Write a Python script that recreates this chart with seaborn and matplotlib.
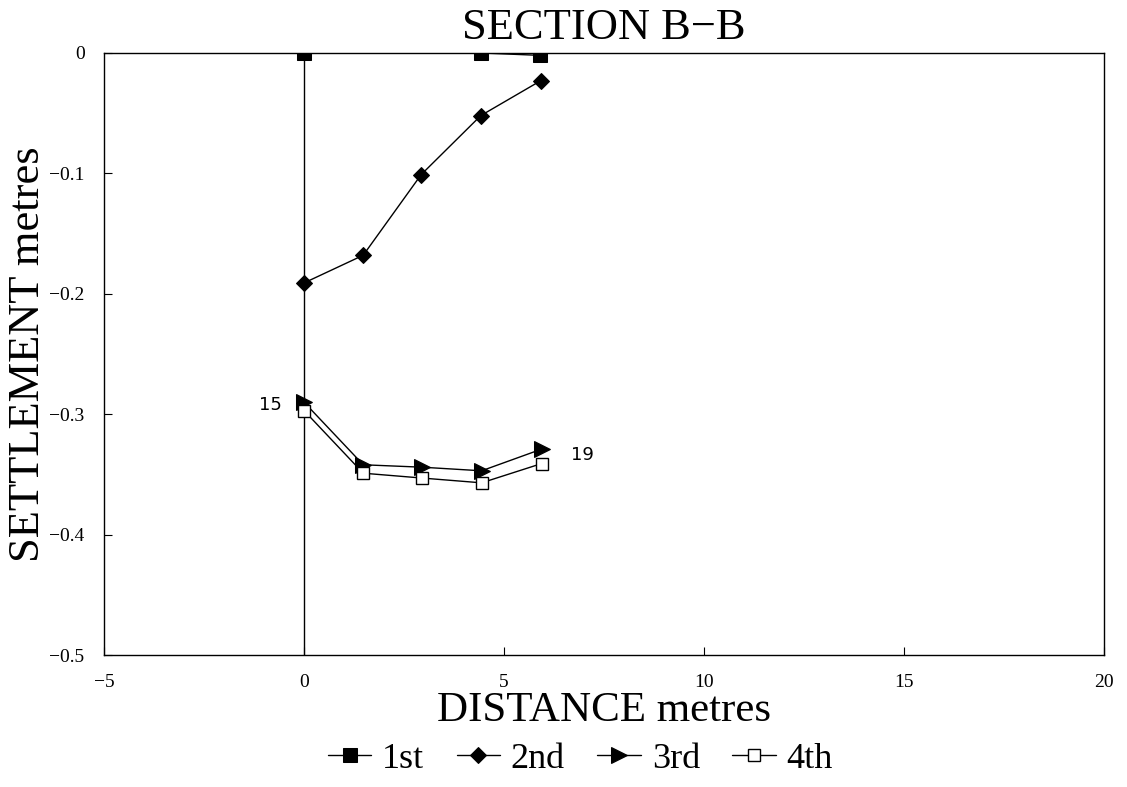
import matplotlib
matplotlib.use("Agg")
import matplotlib.pyplot as plt
import seaborn as sns
import pandas as pd

# Settlement survey readings along section B-B
series_names = ["1st", "2nd", "3rd", "4th"]

dist_1st = [0.0, 4.43, 5.9]
settle_1st = [0.0, 0.0, -0.002]

dist_2nd = [0.0, 1.48, 2.93, 4.42, 5.92]
settle_2nd = [-0.191, -0.168, -0.101, -0.052, -0.023]

dist_3rd = [0.0, 1.48, 2.94, 4.44, 5.94]
settle_3rd = [-0.290, -0.342, -0.344, -0.347, -0.329]

dist_4th = [0.0, 1.48, 2.94, 4.44, 5.94]
settle_4th = [-0.297, -0.349, -0.353, -0.357, -0.341]

x_ticks = [-5, 0, 5, 10, 15, 20]
y_ticks = [0, -0.1, -0.2, -0.3, -0.4, -0.5]
point_labels = [("15", -0.85, -0.292), ("19", 6.95, -0.334)]

frames = []
for name, xs, ys in [("1st", dist_1st, settle_1st), ("2nd", dist_2nd, settle_2nd),
                     ("3rd", dist_3rd, settle_3rd), ("4th", dist_4th, settle_4th)]:
    frames.append(pd.DataFrame({"distance": xs, "settlement": ys, "survey": name}))
df = pd.concat(frames, ignore_index=True)

sns.set_style("white")
plt.rcParams["font.family"] = ["Liberation Serif", "DejaVu Serif"]
plt.rcParams["text.color"] = "black"
plt.rcParams["axes.labelcolor"] = "black"

fig = plt.figure(figsize=(11.27, 7.87), dpi=100)
ax = fig.add_axes([0.0923, 0.1677, 0.8873, 0.765])

styles = {
    "1st": dict(marker="s", markersize=10, markerfacecolor="black", markeredgecolor="black"),
    "2nd": dict(marker="D", markersize=8, markerfacecolor="black", markeredgecolor="black"),
    "3rd": dict(marker=">", markersize=12, markerfacecolor="black", markeredgecolor="black"),
    "4th": dict(marker="s", markersize=9, markerfacecolor="white", markeredgecolor="black",
                markeredgewidth=1.0),
}

# vertical reference line at zero distance
ax.axvline(0, color="black", lw=1.0, zorder=1)

for name in series_names:
    sub = df[df["survey"] == name]
    sns.lineplot(data=sub, x="distance", y="settlement", ax=ax, color="black",
                 lw=1.0, label=name, sort=False, estimator=None, zorder=3,
                 **styles[name])

for txt, x, y in point_labels:
    ax.text(x, y, txt, fontsize=13, family="DejaVu Sans", ha="center", va="center")

ax.set_xlim(-5, 20)
ax.set_ylim(-0.5, 0)
ax.set_xticks(x_ticks)
ax.set_xticklabels([str(t).replace("-", "\u2212") for t in x_ticks])
ax.set_yticks(y_ticks)
ax.set_yticklabels(["0", "\u22120.1", "\u22120.2", "\u22120.3", "\u22120.4", "\u22120.5"])
ax.tick_params(axis="both", direction="in", length=6, width=0.8, labelsize=14,
               colors="black", left=True, bottom=True)
ax.tick_params(axis="x", pad=14)
ax.tick_params(axis="y", pad=14)

for sp in ax.spines.values():
    sp.set_color("black")
    sp.set_linewidth(1.0)

ax.set_xlabel("DISTANCE metres", fontsize=31, labelpad=0)
ax.set_ylabel("SETTLEMENT metres", fontsize=32, labelpad=1)
ax.set_title("SECTION B\u2212B", fontsize=32, pad=10)

ax.legend(loc="lower center", bbox_to_anchor=(0.515, -0.004), bbox_transform=fig.transFigure,
          ncol=4, frameon=False, fontsize=26, handlelength=1.2, handletextpad=0.3,
          columnspacing=0.9, borderaxespad=0)

fig.savefig("out.png", dpi=100, facecolor="white")
